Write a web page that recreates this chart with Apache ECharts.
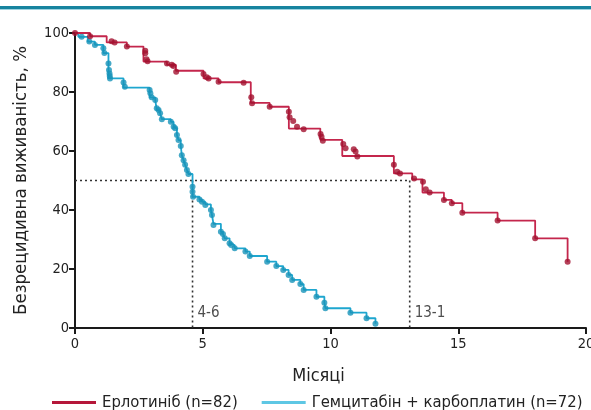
<!DOCTYPE html>
<html><head><meta charset="utf-8">
<script src="https://cdn.jsdelivr.net/npm/echarts@6/dist/echarts.min.js"></script>
<style>html,body{margin:0;padding:0;background:#fff}#c{width:591px;height:410px}</style>
</head><body><div id="c"></div>
<script>
var FONT = "'Liberation Sans Narrow','DejaVu Sans Condensed','Roboto',sans-serif";
var seriesNames = ['Ерлотиніб (n=82)', 'Гемцитабін + карбоплатин (n=72)'];
var xTicks = [0, 5, 10, 15, 20];
var yTicks = [0, 20, 40, 60, 80, 100];
var xTitle = 'Місяці';
var yTitle = 'Безрецидивна виживаність, %';

// Kaplan-Meier steps: [month, survival after the step]
var erlotinibSteps = [[0,100],[0.59,98.9],[1.24,96.8],[2.03,95.4],[2.68,90.3],[3.6,89.2],[3.95,87.2],[5.03,84.6],[5.62,83.3],[6.88,76.3],[7.62,75.0],[8.37,67.6],[9.6,63.8],[10.46,58.3],[12.48,52.4],[13.2,50.4],[13.6,45.9],[14.44,43.4],[14.75,42.3],[15.16,39.1],[16.54,36.4],[18.01,30.4],[19.28,22.5]];
var erlotinibMarks = [[0,100],[0.59,98.9],[1.43,97.2],[1.55,96.8],[2.03,95.4],[2.75,94],[2.75,93.1],[2.8,91.1],[2.84,90.4],[3.6,89.7],[3.79,89.2],[3.85,88.8],[3.96,86.9],[5.03,86.1],[5.16,85],[5.23,84.6],[5.62,83.5],[6.6,83.1],[6.9,78.2],[6.93,76.2],[7.62,75.0],[8.37,73.3],[8.4,71.4],[8.54,70.2],[8.69,68.2],[8.95,67.4],[9.61,65.8],[9.65,64.8],[9.7,63.5],[10.5,62.4],[10.59,60.9],[10.91,60.6],[10.98,59.8],[11.05,58.1],[12.48,55.3],[12.61,53],[12.72,52.4],[13.27,50.7],[13.62,49.6],[13.73,47],[13.88,45.9],[14.44,43.4],[14.75,42.3],[15.16,39.1],[16.54,36.4],[18.01,30.4],[19.28,22.5]];

var gemSteps = [[0,100],[0.13,98.7],[0.5,97.1],[0.78,96.0],[1.11,93.2],[1.31,84.6],[1.9,81.5],[2.92,78.2],[3.14,77.3],[3.2,73.9],[3.33,72.8],[3.4,70.8],[3.75,69.9],[3.86,68.2],[3.92,67.7],[3.99,65.4],[4.05,63.7],[4.14,61.7],[4.18,58.6],[4.25,56.9],[4.31,55.3],[4.38,53.6],[4.44,52.2],[4.6,44.5],[4.87,43.6],[4.97,42.8],[5.1,41.9],[5.32,40.0],[5.36,38.3],[5.42,35.3],[5.71,32.6],[5.79,31.9],[5.86,30.4],[6.05,28.7],[6.11,28.1],[6.25,27.0],[6.67,25.9],[6.84,24.4],[7.52,22.5],[7.88,21.0],[8.15,19.7],[8.36,18.0],[8.5,16.3],[8.82,14.9],[8.95,12.9],[9.45,10.6],[9.76,8.6],[9.8,6.7],[10.78,5.2],[11.41,3.3],[11.76,1.4]];
var gemMarks = [[0.26,98.7],[0.56,97.1],[0.78,95.9],[1.11,94.8],[1.15,93.2],[1.31,89.7],[1.33,87.5],[1.35,86.3],[1.36,85.4],[1.37,84.6],[1.9,83.2],[1.95,81.8],[2.92,80.7],[2.95,79.6],[3.0,78.2],[3.14,77.3],[3.2,74.5],[3.27,73.9],[3.33,72.8],[3.4,70.8],[3.75,69.9],[3.86,68.2],[3.92,67.7],[3.99,65.4],[4.05,63.7],[4.14,61.7],[4.18,58.6],[4.25,56.9],[4.31,55.3],[4.38,53.6],[4.44,52.2],[4.6,47.9],[4.6,46.2],[4.62,44.5],[4.87,43.6],[4.97,42.8],[5.1,41.7],[5.32,40.0],[5.36,38.3],[5.42,34.9],[5.71,32.6],[5.79,31.9],[5.86,30.4],[6.05,28.7],[6.11,28.1],[6.25,27.0],[6.67,25.9],[6.84,24.4],[7.52,22.5],[7.88,21.0],[8.15,19.7],[8.36,18.0],[8.5,16.3],[8.82,14.9],[8.95,12.9],[9.45,10.6],[9.76,8.6],[9.8,6.7],[10.78,5.2],[11.41,3.3],[11.76,1.4]];

var medians = [4.6, 13.1];
var medianLabels = ['4-6', '13-1'];
var medianLevel = 50;

var RED = '#c4264c', RED_DOT = '#a3122f';
var BLUE = '#1ea6cf', BLUE_DOT = '#1893b9';

var chart = echarts.init(document.getElementById('c'), null, {renderer: 'canvas'});
var axisStyle = {lineStyle: {color: '#1a1a1a', width: 2}};
var option = {
  animation: false,
  textStyle: {fontFamily: FONT},
  graphic: [
    {type: 'rect', shape: {x: 0, y: 6, width: 591, height: 3}, style: {fill: '#17849f'}},
    {type: 'rect', shape: {x: 0, y: 9, width: 591, height: 1}, style: {fill: '#9fd3e0'}}
  ],
  grid: {left: 75, right: 5, top: 33, bottom: 82, containLabel: false, outerBoundsMode: 'none'},
  legend: {
    top: 389, left: 47, width: 560, itemWidth: 44, itemHeight: 3, itemGap: 24, icon: 'rect',
    textStyle: {fontFamily: FONT, fontSize: 16.5, color: '#222', padding: [0, 0, 0, 1]},
    data: [
      {name: seriesNames[0], itemStyle: {color: '#b5173a'}},
      {name: seriesNames[1], itemStyle: {color: '#5ec7e4'}}
    ]
  },
  xAxis: {
    type: 'value', min: xTicks[0], max: xTicks[xTicks.length - 1], interval: 5,
    name: xTitle, nameLocation: 'middle', nameGap: 39,
    nameTextStyle: {fontFamily: FONT, fontSize: 18, color: '#222', padding: [0, 24, 0, 0]},
    axisLine: axisStyle, axisTick: {length: 6, lineStyle: {color: '#1a1a1a', width: 2}},
    axisLabel: {fontFamily: FONT, fontSize: 14.5, color: '#222', margin: 9},
    splitLine: {show: false}
  },
  yAxis: {
    type: 'value', min: yTicks[0], max: yTicks[yTicks.length - 1], interval: 20,
    name: yTitle, nameLocation: 'middle', nameGap: 44,
    nameTextStyle: {fontFamily: FONT, fontSize: 18.5, color: '#222'},
    axisLine: axisStyle, axisTick: {length: 6, lineStyle: {color: '#1a1a1a', width: 2}},
    axisLabel: {fontFamily: FONT, fontSize: 14.5, color: '#222', margin: 6},
    splitLine: {show: false}
  },
  series: [
    {type: 'line', name: 'median-h', data: [[0, medianLevel], [medians[1], medianLevel]], showSymbol: false,
     lineStyle: {color: '#333', width: 1.6, type: [2, 3]}, z: 1, silent: true},
    {type: 'line', name: 'median-v1', data: [[medians[0], medianLevel], [medians[0], 0]], showSymbol: false,
     lineStyle: {color: '#333', width: 1.6, type: [2, 3]}, z: 1, silent: true},
    {type: 'line', name: 'median-v2', data: [[medians[1], medianLevel], [medians[1], 0]], showSymbol: false,
     lineStyle: {color: '#333', width: 1.6, type: [2, 3]}, z: 1, silent: true},
    {type: 'scatter', name: 'median-lab', symbolSize: 0,
     data: medians.map(function (m, i) { return {value: [m, 5], label: {formatter: medianLabels[i]}}; }),
     label: {show: true, position: 'right', distance: 5, fontFamily: FONT, fontSize: 15, color: '#222'}, z: 2},
    {type: 'line', name: seriesNames[1], data: gemSteps, step: 'end', showSymbol: false,
     lineStyle: {color: BLUE, width: 1.8}, itemStyle: {color: BLUE}, z: 3},
    {type: 'scatter', name: 'gem-marks', data: gemMarks, symbolSize: 6, itemStyle: {color: BLUE_DOT}, z: 4},
    {type: 'line', name: seriesNames[0], data: erlotinibSteps, step: 'end', showSymbol: false,
     lineStyle: {color: RED, width: 1.8}, itemStyle: {color: RED}, z: 5},
    {type: 'scatter', name: 'erl-marks', data: erlotinibMarks, symbolSize: 6, itemStyle: {color: RED_DOT}, z: 6}
  ]
};
chart.setOption(option);
</script>
</body></html>
